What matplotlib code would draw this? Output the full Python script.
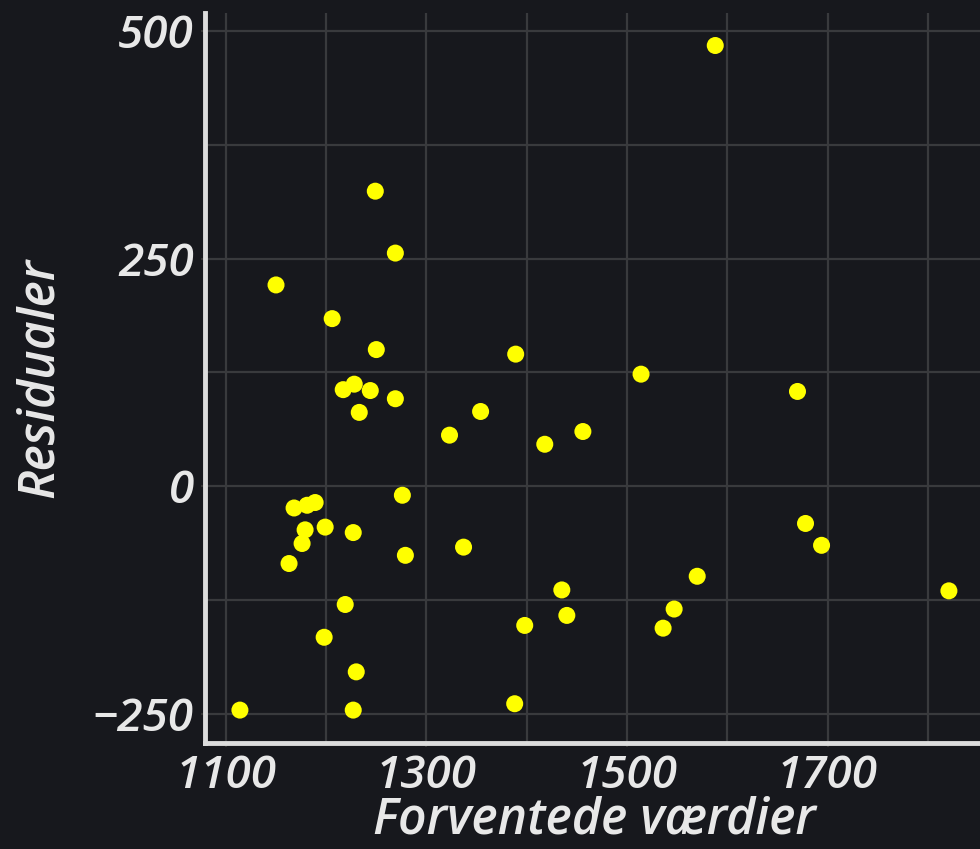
import numpy as np
import matplotlib
matplotlib.use("Agg")
import matplotlib.pyplot as plt
from matplotlib.ticker import MultipleLocator

# fitted values and residuals
fitted = [1588, 1249, 1269, 1150, 1206, 1250, 1389, 1514, 1670, 1217,
          1228, 1244, 1269, 1233, 1354, 1323, 1456, 1418, 1276, 1168,
          1181, 1189, 1179, 1199, 1227, 1176, 1678, 1694, 1337, 1279,
          1163, 1570, 1435, 1821, 1440, 1547, 1536, 1219, 1398, 1198,
          1230, 1114, 1227, 1388]
residuals = [484, 324, 256, 221, 184, 150, 145, 123, 104, 106,
             112, 105, 96, 81, 82, 56, 60, 46, -10, -24,
             -21, -18, -48, -45, -51, -63, -41, -65, -67, -76,
             -85, -99, -114, -115, -142, -135, -156, -130, -153, -166,
             -204, -246, -246, -239]

x_ticks = [1100, 1300, 1500, 1700]
y_ticks = [-250, 0, 250, 500]

bg = "#17181d"
fg = "#e8e8e8"
grid_col = "#393a3d"

plt.rcParams['font.family'] = ['Open Sans', 'DejaVu Sans']

fig = plt.figure(figsize=(9.8, 8.49), dpi=100, facecolor=bg)
ax = fig.add_axes([0.209, 0.125, 0.791, 0.86], facecolor=bg)

ax.scatter(fitted, residuals, s=150, color="#ffff00", edgecolors="none", zorder=3)

ax.set_xlim(1079, 1852)
ax.set_ylim(-282, 520)
ax.set_xticks(x_ticks)
ax.set_yticks(y_ticks)
ax.xaxis.set_minor_locator(MultipleLocator(100))
ax.yaxis.set_minor_locator(MultipleLocator(125))
ax.grid(which="both", color=grid_col, linewidth=1.6, zorder=0)
ax.set_axisbelow(True)

for side in ["top", "right"]:
    ax.spines[side].set_visible(False)
for side in ["left", "bottom"]:
    ax.spines[side].set_color("#dcdcdc")
    ax.spines[side].set_linewidth(3.5)

ax.tick_params(which="major", length=3, width=1.5, color="#333333",
               labelcolor=fg, labelsize=33, pad=5)
ax.tick_params(which="minor", length=0)
for lab in ax.get_xticklabels() + ax.get_yticklabels():
    lab.set_fontstyle("italic")
    lab.set_fontweight("semibold")

ax.set_xlabel("Forventede værdier", fontsize=36, color=fg, style="italic",
              fontweight="semibold")
ax.set_ylabel("Residualer", fontsize=36, color=fg, style="italic",
              fontweight="semibold")
ax.xaxis.set_label_coords(0.503, -0.072)
ax.yaxis.set_label_coords(-0.18, 0.5)

fig.savefig("out.png", dpi=100, facecolor=bg)
